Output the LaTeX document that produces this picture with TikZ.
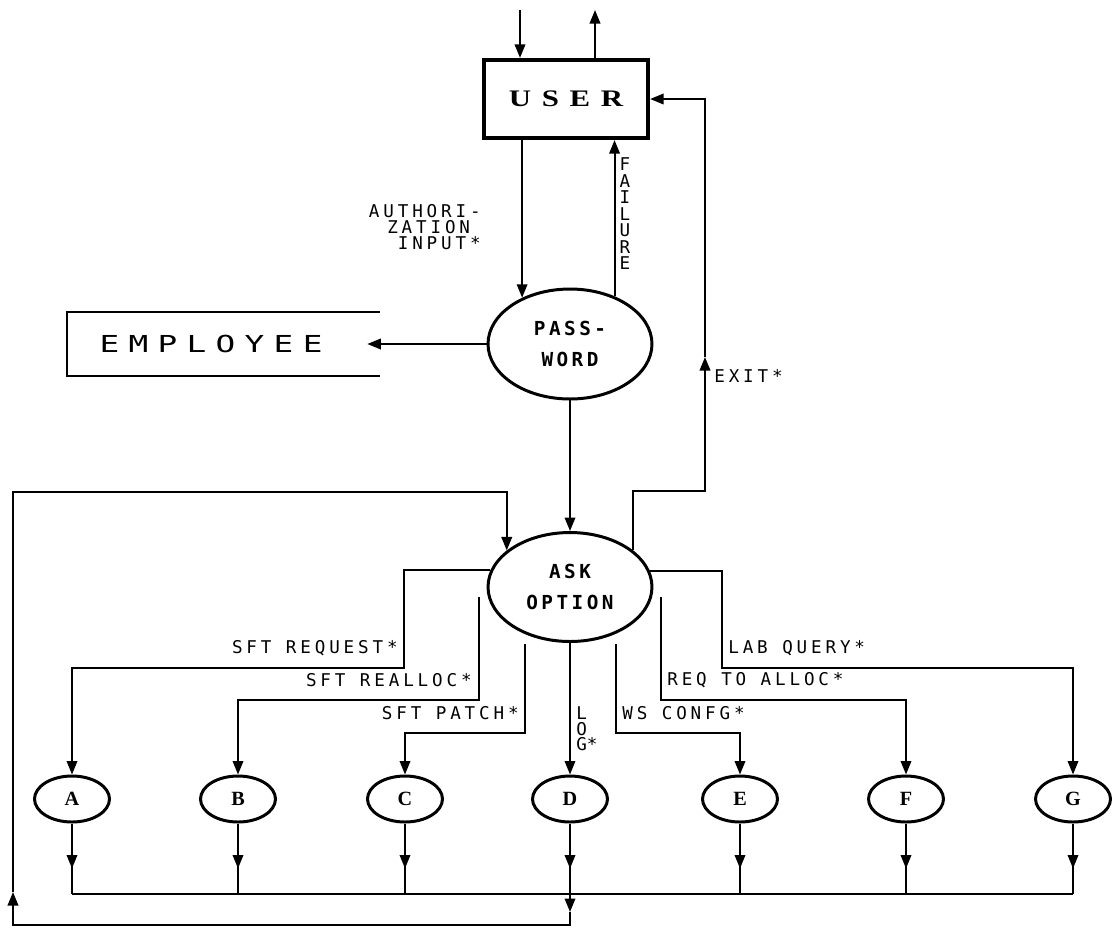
\documentclass[tikz,border=0pt]{standalone}
\usepackage{fontspec}
\usetikzlibrary{arrows.meta,shapes.geometric,calc}
\newfontfamily\lblfont[LetterSpace=22]{DejaVu Sans Mono}
\newfontfamily\vlblfont{DejaVu Sans Mono}
\newfontfamily\bubfont[LetterSpace=18]{DejaVu Sans Mono}
\newfontfamily\empfont[FakeStretch=1.4,LetterSpace=40]{DejaVu Sans Mono}
\newfontfamily\userfont[FakeStretch=1.3,LetterSpace=45]{Liberation Serif}
\newfontfamily\letfont{Liberation Serif}
\tikzset{
  conn/.style={line width=1.1pt},
  arr/.style={-{Triangle[length=2.7mm,width=2.1mm]}},
  bubble/.style={ellipse, draw, line width=1.7pt, inner sep=0pt, align=center,
    font={\bubfont\bfseries\fontsize{11}{17.6}\selectfont},
    minimum width=3.28cm, minimum height=2.2cm},
  proc/.style={ellipse, draw, line width=1.7pt, inner sep=0pt,
    minimum width=1.5cm, minimum height=0.92cm,
    font={\letfont\bfseries\fontsize{11.5}{12}\selectfont}},
  lbl/.style={inner sep=0pt, font={\lblfont\fontsize{10}{9}\selectfont}},
  vlbl/.style={inner sep=0pt, align=left, font={\vlblfont\fontsize{10}{9.4}\selectfont}},
  vlbls/.style={inner sep=0pt, align=left, font={\vlblfont\fontsize{10}{8.8}\selectfont}},
}
\begin{document}
\begin{tikzpicture}[x=0.02cm,y=-0.02cm]
\fill[white] (0,0) rectangle (1115,927);
\useasboundingbox (0,0) rectangle (1115,927);

% USER
\node[draw, line width=2.4pt, minimum width=3.28cm, minimum height=1.56cm, inner sep=0pt,
  font={\userfont\bfseries\fontsize{13.5}{14}\selectfont}] (user) at (566,99) {USER};
\coordinate (inTop) at (520,10);
\coordinate (outTop) at (595,10);
\draw[conn,arr] (inTop) -- (inTop |- user.north);
\draw[conn,arr] (outTop |- user.north) -- (outTop);

% PASSWORD
\node[bubble] (pw) at (570,344) {PASS-\\WORD};
\draw[conn,arr] (pw.136 |- user.south) -- (pw.136);
\draw[conn,arr] (pw.47) -- (pw.47 |- user.south);
\node[lbl, align=right, anchor=east] (lauth) at (481,227) {AUTHORI-\\ZATION\hphantom{N}\\INPUT*};
\node[vlbl, align=center] (lfail) at (625,214) {F\\A\\I\\L\\U\\R\\E};

% EMPLOYEE
\node[minimum width=6.26cm, minimum height=1.28cm, inner sep=0pt] (emp) at (223.5,344) {};
\draw[line width=1pt] (emp.north east) -- (emp.north west) -- (emp.south west) -- (emp.south east);
\node[inner sep=0pt, font={\empfont\fontsize{13.3}{14}\selectfont}] (emptxt) at (211,344) {EMPLOYEE};
\draw[conn,arr] (pw.west) -- ($(emp.east)+(-13,0)$);

% ASK OPTION
\node[bubble, minimum height=2.18cm] (ask) at (570,587) {ASK\\OPTION};
\draw[conn,arr] (pw.south) -- (ask.north);

% EXIT
\coordinate (exitC) at (705,491);
\coordinate (exitA) at (705,357);
\draw[conn,arr] (ask.30.5) |- (exitC) -- (exitA);
\draw[conn,arr] (exitA) |- (user.east);
\node[lbl, anchor=west] (lexit) at (714,376) {EXIT*};

% processes
\coordinate (bus) at (0,894);
\node[proc] (A) at (72,799) {A};
\node[proc] (B) at (238,799) {B};
\node[proc] (C) at (405,799) {C};
\node[proc] (D) at (570,799) {D};
\node[proc] (E) at (740,799) {E};
\node[proc] (F) at (906,799) {F};
\node[proc] (G) at (1073,799) {G};

\foreach \n in {A,B,C,D,E,F,G}{
  \draw[conn] (\n.south) -- (\n.south |- bus);
  \draw[conn,arr] (\n.south) -- ($(\n.south)+(0,45)$);
}
\draw[conn] (A.south |- bus) -- (G.south |- bus);

% feedback loop
\coordinate (loopArrD) at (570,912);
\coordinate (loopBL) at (13,925);
\coordinate (loopUp) at (13,892);
\coordinate (loopY) at (0,492);
\draw[conn,arr] (D.south |- bus) -- (loopArrD);
\draw[conn,arr] (loopArrD) |- (loopBL) -- (loopUp);
\draw[conn,arr] (loopUp) -- (loopUp |- loopY) -| (ask.150.6);

% option routes
\coordinate (cReq) at (404,668);
\coordinate (sReal) at (479,597);
\coordinate (cReal) at (479,700);
\coordinate (sPatch) at (525,644);
\coordinate (cPatch) at (525,733);
\coordinate (sWs) at (616,644);
\coordinate (cWs) at (616,733);
\coordinate (sAlloc) at (661,597);
\coordinate (cAlloc) at (661,700);
\coordinate (cLab) at (722,668);

\draw[conn,arr] (ask.168.5) -| (cReq) -| (A.north);
\draw[conn,arr] (sReal) -- (cReal) -| (B.north);
\draw[conn,arr] (sPatch) -- (cPatch) -| (C.north);
\draw[conn,arr] (ask.south) -- (D.north);
\draw[conn,arr] (sWs) -- (cWs) -| (E.north);
\draw[conn,arr] (sAlloc) -- (cAlloc) -| (F.north);
\draw[conn,arr] (ask.11.5) -| (cLab) -| (G.north);

\node[lbl, anchor=east] (lreq) at (398,648) {SFT REQUEST*};
\node[lbl, anchor=east] (lreal) at (472,680) {SFT REALLOC*};
\node[lbl, anchor=east] (lpatch) at (519,713) {SFT PATCH*};
\node[vlbls, anchor=west] (llog) at (576,729) {L\\O\\G*};
\node[lbl, anchor=west] (lws) at (622,713) {WS CONFG*};
\node[lbl, anchor=west] (lalloc) at (667,680) {REQ TO ALLOC*};
\node[lbl, anchor=west] (llab) at (728,648) {LAB QUERY*};
\end{tikzpicture}
\end{document}
